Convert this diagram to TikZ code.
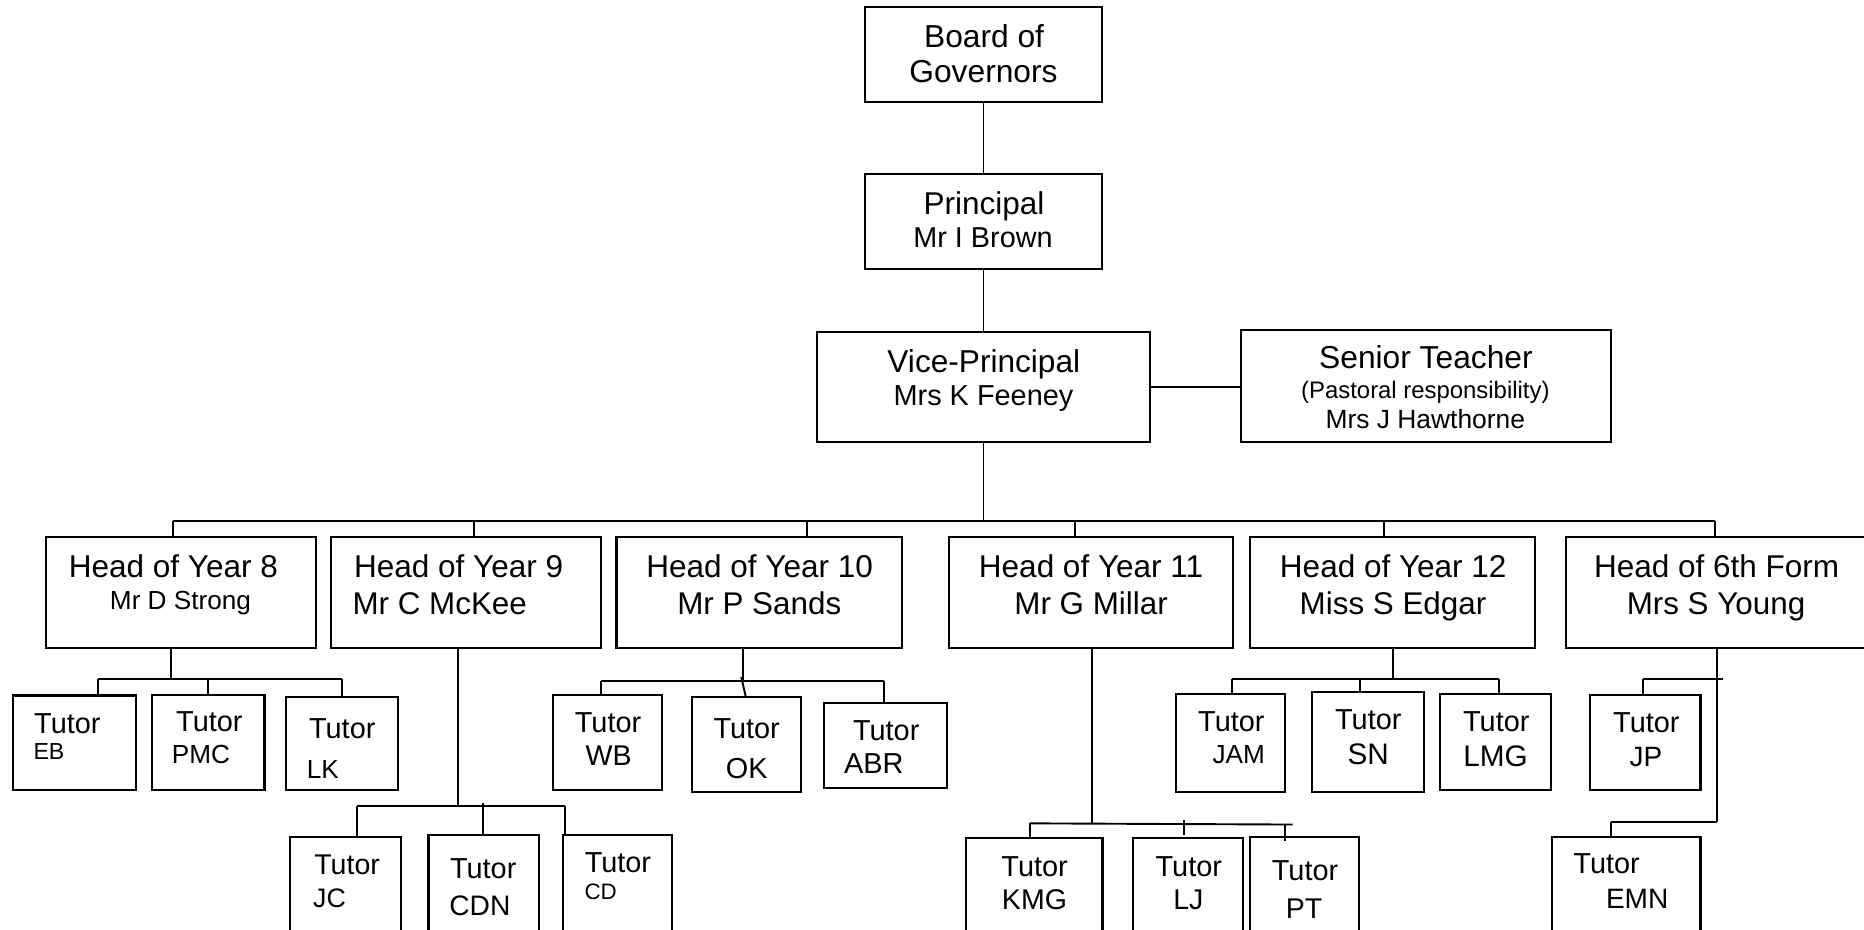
\documentclass[tikz,border=0pt]{standalone}
\usepackage{fontspec}
\setmainfont{Liberation Sans}
\newcommand\fs[1]{\fontsize{#1}{#1}\selectfont}
\newcommand\orgbox[5]{\node[obox, minimum width={(#4-#2)*1pt}, minimum height={(#5-#3)*1pt}] (#1) at ({(#2+#4)/2},{(#3+#5)/2}) {};}
\newcommand\lbltxt[5]{\node[lbl, font=\fs{#4}] (#1) at (#2,#3) {#5};}
\begin{document}
\begin{tikzpicture}[x=1pt,y=-1pt,
  obox/.style={draw, line width=1.8pt, rectangle, inner sep=0pt, outer sep=0pt},
  conn/.style={line width=1.6pt},
  lbl/.style={anchor=base, inner sep=0pt, outer sep=0pt}]
\useasboundingbox (0,0) rectangle (1568,782);
\fill[white] (0,0) rectangle (1568,782);
\clip (0,0) rectangle (1568,782);

% ---------- boxes ----------
\orgbox{bog}{727.6}{5.6}{927}{85.5}
\orgbox{prin}{727.6}{146.1}{927}{226}
\orgbox{vp}{687.5}{279}{967.1}{371.5}
\orgbox{st}{1043.8}{277.6}{1355.2}{371.5}
\orgbox{h8}{39}{451.7}{265.6}{545}
\orgbox{h9}{278.6}{451.7}{505.6}{545}
\orgbox{h10}{518.6}{451.7}{758.7}{545}
\orgbox{h11}{798}{451.7}{1037.5}{545}
\orgbox{h12}{1051.5}{451.7}{1291}{545}
\orgbox{h6}{1317}{451.7}{1572}{545}
\orgbox{tEB}{11}{585}{114.7}{664.5}
\orgbox{tPMC}{127.7}{584.4}{222.5}{664.5}
\orgbox{tLK}{240.3}{586}{335}{664.5}
\orgbox{tJC}{244}{704.3}{337}{800}
\orgbox{tCDN}{360.4}{702.5}{453.5}{800}
\orgbox{tCD}{473.9}{702.6}{565.3}{800}
\orgbox{tWB}{465}{584.6}{557}{664.5}
\orgbox{tOK}{581.8}{586.3}{673.5}{666}
\orgbox{tABR}{692.9}{591.6}{796.9}{663.1}
\orgbox{tKMG}{812.6}{705.2}{927.4}{800}
\orgbox{tLJ}{953.3}{705.2}{1045.8}{800}
\orgbox{tPT}{1051.5}{703.8}{1143.3}{800}
\orgbox{tJAM}{989}{584}{1080.7}{666}
\orgbox{tSN}{1104}{582.4}{1198.2}{666}
\orgbox{tLMG}{1211}{584}{1304.7}{664.5}
\orgbox{tJP}{1337.5}{584.6}{1430.5}{664.5}
\orgbox{tEMN}{1305.3}{704.3}{1430.5}{800}

% ---------- texts ----------
\lbltxt{bogA}{827.8}{40}{26.7}{Board of}
\lbltxt{bogB}{827.3}{69.4}{26.7}{Governors}
\lbltxt{prinA}{827.8}{180.2}{26.5}{Principal}
\lbltxt{prinB}{826.9}{208.2}{24.2}{Mr I Brown}
\lbltxt{vpA}{827.6}{313}{26.6}{Vice-Principal}
\lbltxt{vpB}{827.3}{341}{24.3}{Mrs K Feeney}
\lbltxt{stA}{1199.5}{310}{26.7}{Senior Teacher}
\lbltxt{stB}{1199}{335}{20.1}{(Pastoral responsibility)}
\lbltxt{stC}{1199}{360.3}{22.2}{Mrs J Hawthorne}

\lbltxt{h8A}{145.8}{485.5}{26.5}{Head of Year 8}
\lbltxt{h8B}{151.8}{512.5}{22}{Mr D Strong}
\lbltxt{h9A}{385.8}{485.5}{26.5}{Head of Year 9}
\lbltxt{h9B}{369.9}{516.8}{26.4}{Mr C McKee}
\lbltxt{h10A}{639}{485.5}{26.5}{Head of Year 10}
\lbltxt{h10B}{638.7}{516.8}{26.4}{Mr P Sands}
\lbltxt{h11A}{917.8}{485.5}{26.5}{Head of Year 11}
\lbltxt{h11B}{917.8}{516.8}{26.4}{Mr G Millar}
\lbltxt{h12A}{1172}{485.5}{26.5}{Head of Year 12}
\lbltxt{h12B}{1171.8}{516.8}{26.4}{Miss S Edgar}
\lbltxt{h6A}{1444}{485.5}{26.5}{Head of 6th Form}
\lbltxt{h6B}{1443.5}{516.8}{26.4}{Mrs S Young}

\lbltxt{tEBa}{56.7}{616.9}{24.3}{Tutor}
\lbltxt{tEBb}{41.2}{639.3}{19.5}{EB}
\lbltxt{tPMCa}{176.1}{615.5}{24.3}{Tutor}
\lbltxt{tPMCb}{169.1}{642.1}{22}{PMC}
\lbltxt{tLKa}{287.9}{621}{24.3}{Tutor}
\lbltxt{tLKb}{271.6}{654.7}{22}{LK}
\lbltxt{tWBa}{511.5}{616}{24.3}{Tutor}
\lbltxt{tWBb}{512}{644.3}{24}{WB}
\lbltxt{tOKa}{628.1}{621}{24.3}{Tutor}
\lbltxt{tOKb}{628.2}{654.7}{24.3}{OK}
\lbltxt{tABRa}{745.5}{623}{24.3}{Tutor}
\lbltxt{tABRb}{735}{651}{24.3}{ABR}
\lbltxt{tJAMa}{1035.8}{615.5}{24.3}{Tutor}
\lbltxt{tJAMb}{1042}{642}{22}{JAM}
\lbltxt{tSNa}{1151}{613.5}{24.3}{Tutor}
\lbltxt{tSNb}{1150.9}{643.5}{25}{SN}
\lbltxt{tLMGa}{1258.7}{615.5}{24.3}{Tutor}
\lbltxt{tLMGb}{1258}{645}{25}{LMG}
\lbltxt{tJPa}{1384.9}{616.3}{24.3}{Tutor}
\lbltxt{tJPb}{1384.6}{644.4}{23.5}{JP}
\lbltxt{tEMNa}{1351.5}{734.6}{24.3}{Tutor}
\lbltxt{tEMNb}{1377.2}{764}{23.6}{EMN}
\lbltxt{tKMGa}{870.3}{736.9}{24.3}{Tutor}
\lbltxt{tKMGb}{870.2}{764.9}{24}{KMG}
\lbltxt{tLJa}{1000}{736.9}{24.3}{Tutor}
\lbltxt{tLJb}{999.6}{764.9}{24}{LJ}
\lbltxt{tPTa}{1097.8}{740.3}{24.3}{Tutor}
\lbltxt{tPTb}{1097}{772.5}{24}{PT}
\lbltxt{tJCa}{292}{736}{24}{Tutor}
\lbltxt{tJCb}{277.2}{763.3}{22.5}{JC}
\lbltxt{tCDNa}{406.5}{738.8}{24.3}{Tutor}
\lbltxt{tCDNb}{403.7}{769.7}{23.7}{CDN}
\lbltxt{tCDa}{519.8}{734}{24.3}{Tutor}
\lbltxt{tCDb}{505.3}{757}{18.8}{CD}

% ---------- connectors ----------
\draw[conn] (bog) -- (prin);
\draw[conn] (prin) -- (vp);
\draw[conn] (vp.east) -- (vp.east -| st.west);

% main bus
\coordinate (busL) at (145.5,438.3);
\coordinate (busR) at (1442.5,438.3);
\draw[conn] (vp.south) -- (vp.south |- busL);
\draw[conn] (busL) -- (busR);
\coordinate (d9) at (398.6,438.3);
\coordinate (d10) at (678.6,438.3);
\coordinate (d11) at (904.5,438.3);
\coordinate (d12) at (1164,438.3);
\draw[conn] (busL) -- (busL |- h8.north);
\draw[conn] (d9) -- (d9 |- h9.north);
\draw[conn] (d10) -- (d10 |- h10.north);
\draw[conn] (d11) -- (d11 |- h11.north);
\draw[conn] (d12) -- (d12 |- h12.north);
\draw[conn] (busR) -- (busR |- h6.north);

% Year 8 tutors
\coordinate (y8) at (144.2,571.4);
\coordinate (y8L) at (82.8,571.4);
\coordinate (y8M) at (174.8,571.4);
\coordinate (y8R) at (287.4,571.4);
\draw[conn] (y8 |- h8.south) -- (y8);
\draw[conn] (y8L) -- (y8R);
\draw[conn] (y8L) -- (y8L |- tEB.north);
\draw[conn] (y8M) -- (y8M |- tPMC.north);
\draw[conn] (y8R) -- (y8R |- tLK.north);

% Year 9 tutors
\coordinate (y9) at (385.4,677.7);
\coordinate (y9L) at (300.5,677.7);
\coordinate (y9M) at (406.6,675.8);
\coordinate (y9R) at (475.4,677.7);
\draw[conn] (y9 |- h9.south) -- (y9);
\draw[conn] (y9L) -- (y9R);
\draw[conn] (y9L) -- (y9L |- tJC.north);
\draw[conn] (y9M) -- (y9M |- tCDN.north);
\draw[conn] (y9R) -- (y9R |- tCD.north);

% Year 10 tutors
\coordinate (y10) at (624.7,572.6);
\coordinate (y10L) at (505.6,572.6);
\coordinate (y10M) at (623.5,569.5);
\coordinate (y10R) at (743.6,572.6);
\draw[conn] (y10 |- h10.south) -- (y10);
\draw[conn] (y10L) -- (y10R);
\draw[conn] (y10L) -- (y10L |- tWB.north);
\draw[conn] (y10M) -- (627.4,586.3) -- (tOK.north -| 627.4,0);
\draw[conn] (y10R) -- (y10R |- tABR.north);

% Year 11 tutors
\coordinate (y11) at (918.3,692.6);
\coordinate (y11L) at (866.4,692.6);
\coordinate (y11R) at (1087.4,693.6);
\coordinate (ljT) at (996.3,689.5);
\coordinate (ptD) at (1081,693.4);
\draw[conn] (y11 |- h11.south) -- (y11);
\draw[conn] (y11L) -- (y11R);
\draw[conn] (y11L) -- (y11L |- tKMG.north);
\draw[conn] (ljT) -- ++(0,13);
\draw[conn] (ptD) -- ++(0,14);

% Year 12 tutors
\coordinate (y12) at (1171.5,571);
\coordinate (y12L) at (1036,571);
\coordinate (y12M) at (1144.2,571);
\coordinate (y12R) at (1260.6,571);
\draw[conn] (y12 |- h12.south) -- (y12);
\draw[conn] (y12L) -- (y12R);
\draw[conn] (y12L) -- (y12L |- tJAM.north);
\draw[conn] (y12M) -- (y12M |- tSN.north);
\draw[conn] (y12R) -- (y12R |- tLMG.north);

% 6th form tutors
\coordinate (f6) at (1444,691.2);
\coordinate (f6J) at (1382.4,571.4);
\coordinate (f6Je) at (1449.1,571.4);
\coordinate (f6E) at (1354.9,691.2);
\draw[conn] (f6 |- h6.south) -- (f6);
\draw[conn] (f6J) -- (f6Je);
\draw[conn] (f6J) -- (f6J |- tJP.north);
\draw[conn] (f6E) -- (f6);
\draw[conn] (f6E) -- (f6E |- tEMN.north);
\end{tikzpicture}
\end{document}
